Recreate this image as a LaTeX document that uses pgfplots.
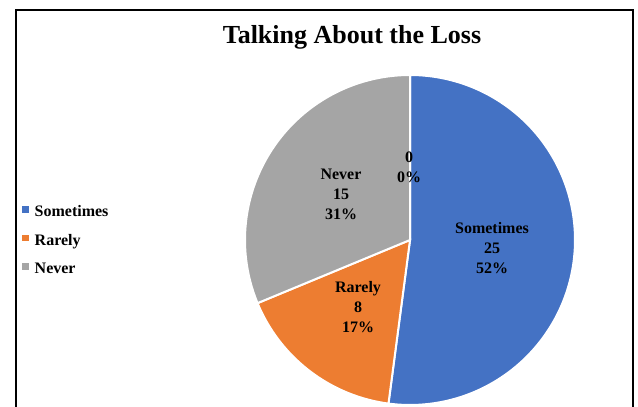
\documentclass[border=0pt]{standalone}
\usepackage{pgfplots}
\pgfplotsset{compat=1.18}
\usepackage{pgfplotstable}
\usepackage{fontspec}
\setmainfont{Liberation Serif}
\definecolor{pieblue}{HTML}{4472C4}
\definecolor{pieorange}{HTML}{ED7D31}
\definecolor{piegray}{HTML}{A5A5A5}
\pgfplotsset{
  sqlegend/.style={legend image code/.code={\fill[##1,draw=none] (0pt,-1pt) rectangle (6.5pt,5.5pt);}}
}
\pgfplotstableread{
label value
Sometimes 25
Rarely 8
Never 15
}\pietable

\begin{document}
\begin{tikzpicture}
\pgfplotstablegetelem{0}{value}\of\pietable \edef\va{\pgfplotsretval}
\pgfplotstablegetelem{1}{value}\of\pietable \edef\vb{\pgfplotsretval}
\pgfplotstablegetelem{2}{value}\of\pietable \edef\vc{\pgfplotsretval}
\pgfmathsetmacro\tot{\va+\vb+\vc}
\pgfmathsetmacro\aA{90-360*\va/\tot}
\pgfmathsetmacro\aB{\aA-360*\vb/\tot}
\pgfmathsetmacro\aC{\aB-360*\vc/\tot}
\begin{axis}[
  x=1pt, y=1pt, xmin=0, xmax=638, ymin=0, ymax=407,
  hide axis, scale only axis, clip=true, anchor=south west, at={(0,0)},
  sqlegend,
  legend style={at={(axis cs:22,167)}, anchor=west, draw=none, fill=none,
    font=\bfseries\fontsize{16}{18}\selectfont, row sep=12pt, column sep=4pt,
    inner sep=0pt, cells={anchor=west}},
  legend cell align=left,
]
\addplot[fill=pieblue, draw=white, line width=2pt, domain=\aA:90, samples=120]
  ({410+165*cos(x)},{167+165*sin(x)}) -- (410,167) -- cycle;
\addlegendentry{Sometimes}
\addplot[fill=pieorange, draw=white, line width=2pt, domain=\aB:\aA, samples=60]
  ({410+165*cos(x)},{167+165*sin(x)}) -- (410,167) -- cycle;
\addlegendentry{Rarely}
\addplot[fill=piegray, draw=white, line width=2pt, domain=\aC:\aB, samples=80]
  ({410+165*cos(x)},{167+165*sin(x)}) -- (410,167) -- cycle;
\addlegendentry{Never}
% frame
\draw[line width=2pt] (15.5,-5) -- (15.5,397) -- (633,397) -- (633,-5);
% title
\node[font=\bfseries\fontsize{26}{30}\selectfont] at (352,369.5) {Talking About the Loss};
% slice labels
\begin{scope}[every node/.style={align=center, font=\bfseries\fontsize{16}{20}\selectfont}]
\node at (492,159) {Sometimes\\25\\52\%};
\node at (358,100) {Rarely\\8\\17\%};
\node at (341,213) {Never\\15\\31\%};
\node at (409,240) {0\\0\%};
\end{scope}
\end{axis}
\pgfresetboundingbox
\useasboundingbox (0,0) rectangle (638pt,407pt);
\end{tikzpicture}
\end{document}
